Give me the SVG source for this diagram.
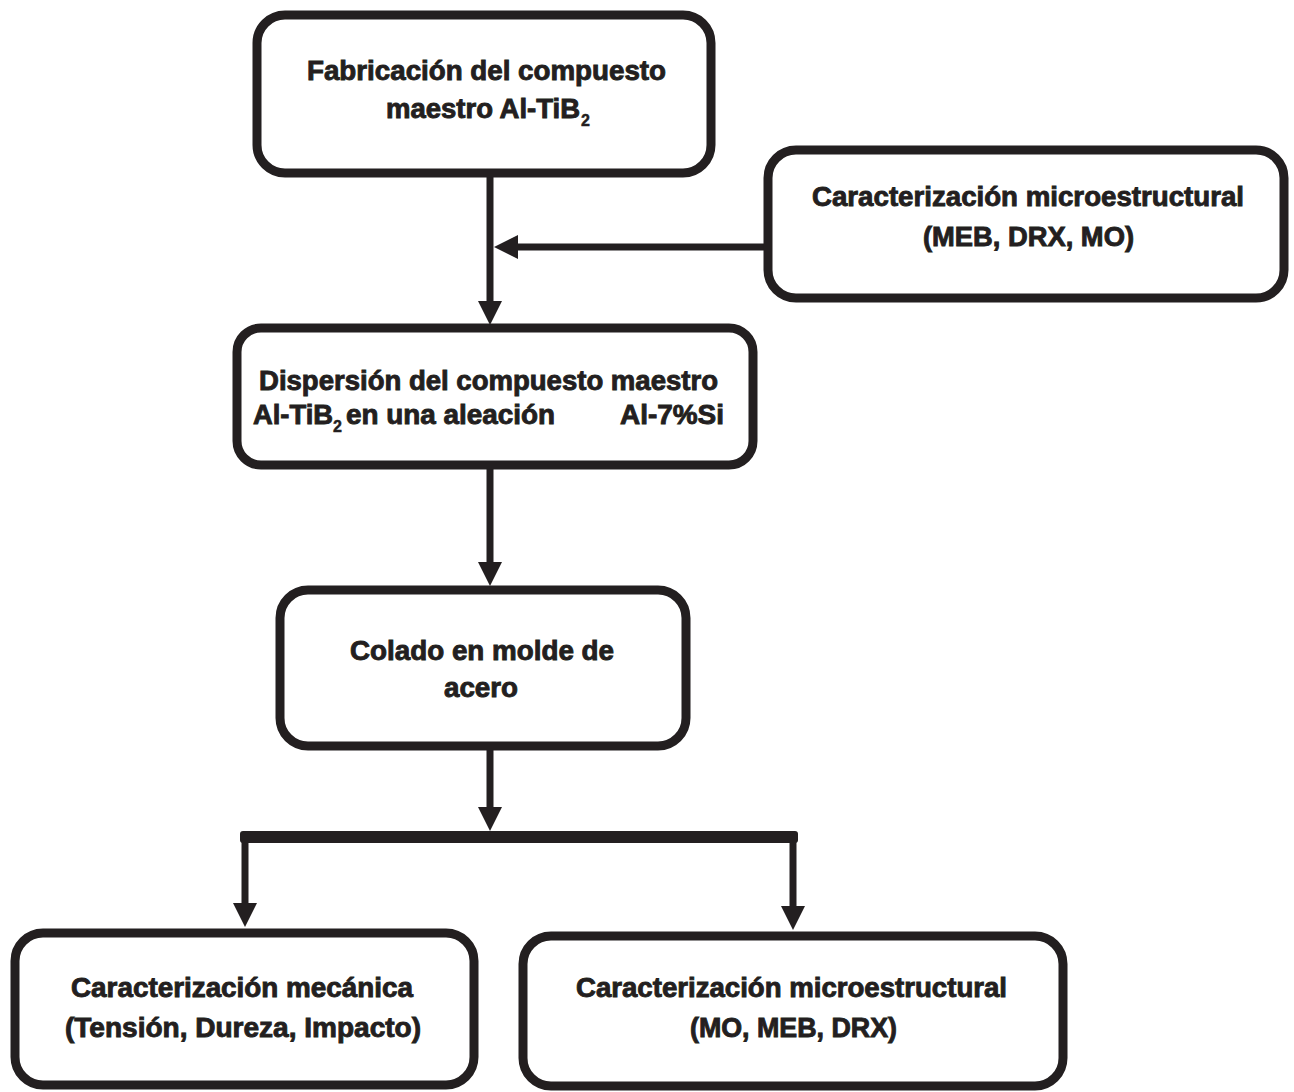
<svg xmlns="http://www.w3.org/2000/svg" width="1294" height="1092" viewBox="0 0 1294 1092">
<style>
.box{fill:#fff;stroke:#231f20;stroke-width:9}
.t{font-family:"Liberation Sans",Arial,sans-serif;font-weight:bold;font-size:27px;fill:#231f20;stroke:#231f20;stroke-width:0.9}
.sub{font-family:"Liberation Sans",Arial,sans-serif;font-weight:bold;font-size:16px;fill:#231f20;stroke:#231f20;stroke-width:0.5}
.ln{fill:none;stroke:#231f20;stroke-width:7}
</style>
<defs>
<marker id="ah" markerUnits="userSpaceOnUse" markerWidth="24" markerHeight="24" refX="4" refY="12" orient="auto">
<path d="M0,0 L24,12 L0,24 z" fill="#231f20"/>
</marker>
</defs>
<rect width="1294" height="1092" fill="#fff"/>
<g id="connectors">
<path class="ln" d="M490,177 L490,305" marker-end="url(#ah)"/>
<path class="ln" d="M766,247 L514,247" marker-end="url(#ah)"/>
<path class="ln" d="M490,467 L490,566" marker-end="url(#ah)"/>
<path class="ln" d="M490,750 L490,811" marker-end="url(#ah)"/>
<rect x="240" y="831" width="558" height="12" rx="3" fill="#231f20"/>
<path class="ln" d="M245,840 L245,907" marker-end="url(#ah)"/>
<path class="ln" d="M793,840 L793,910" marker-end="url(#ah)"/>
</g>
<g id="n1">
<rect class="box" x="257" y="15" width="454" height="158" rx="28"/>
<text class="t" x="307" y="80" textLength="359" lengthAdjust="spacingAndGlyphs">Fabricación del compuesto</text>
<text class="t" x="386" y="118" textLength="194" lengthAdjust="spacingAndGlyphs">maestro Al-TiB</text>
<text class="sub" x="581" y="126">2</text>
</g>
<g id="n2">
<rect class="box" x="768" y="150" width="516" height="148" rx="28"/>
<text class="t" x="812" y="206" textLength="432" lengthAdjust="spacingAndGlyphs">Caracterización microestructural</text>
<text class="t" x="923" y="246" textLength="211" lengthAdjust="spacingAndGlyphs">(MEB, DRX, MO)</text>
</g>
<g id="n3">
<rect class="box" x="237" y="328" width="516" height="137" rx="24"/>
<text class="t" x="259" y="390" textLength="459" lengthAdjust="spacingAndGlyphs">Dispersión del compuesto maestro</text>
<text class="t" x="253" y="424" textLength="80" lengthAdjust="spacingAndGlyphs">Al-TiB</text>
<text class="sub" x="333" y="432">2</text>
<text class="t" x="346" y="424" textLength="209" lengthAdjust="spacingAndGlyphs">en una aleación</text>
<text class="t" x="620" y="424" textLength="104" lengthAdjust="spacingAndGlyphs">Al-7%Si</text>
</g>
<g id="n4">
<rect class="box" x="280" y="590" width="406" height="156" rx="28"/>
<text class="t" x="350" y="660" textLength="264" lengthAdjust="spacingAndGlyphs">Colado en molde de</text>
<text class="t" x="444" y="697" textLength="74" lengthAdjust="spacingAndGlyphs">acero</text>
</g>
<g id="n5">
<rect class="box" x="15" y="933" width="459" height="152" rx="28"/>
<text class="t" x="71" y="997" textLength="342" lengthAdjust="spacingAndGlyphs">Caracterización mecánica</text>
<text class="t" x="65" y="1037" textLength="356" lengthAdjust="spacingAndGlyphs">(Tensión, Dureza, Impacto)</text>
</g>
<g id="n6">
<rect class="box" x="523" y="936" width="540" height="150" rx="28"/>
<text class="t" x="576" y="997" textLength="431" lengthAdjust="spacingAndGlyphs">Caracterización microestructural</text>
<text class="t" x="690" y="1037" textLength="207" lengthAdjust="spacingAndGlyphs">(MO, MEB, DRX)</text>
</g>
</svg>
